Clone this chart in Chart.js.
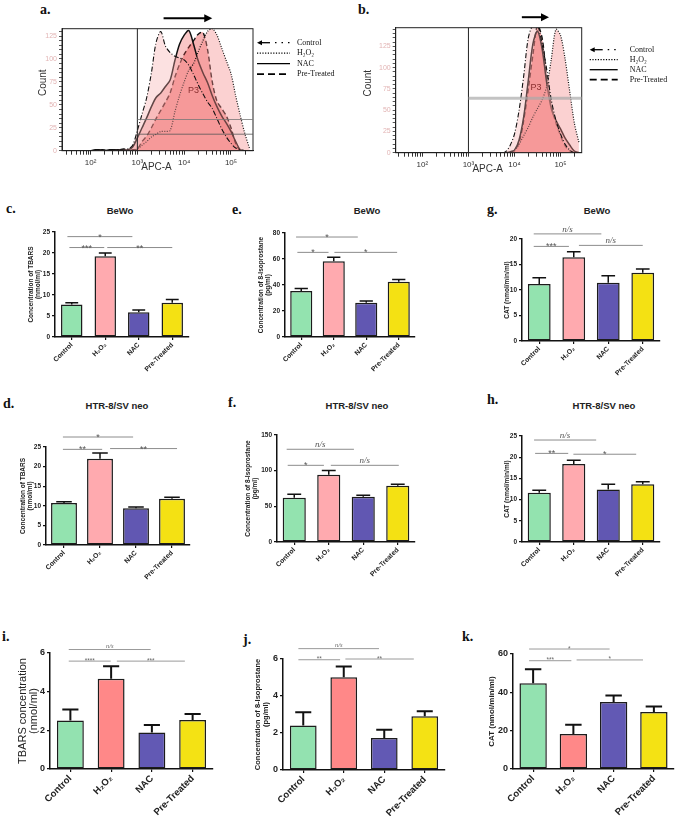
<!DOCTYPE html>
<html><head><meta charset="utf-8">
<script src="https://cdn.jsdelivr.net/npm/chart.js@4.4.0/dist/chart.umd.min.js"></script>
<style>
body{margin:0;background:#fff;width:676px;height:816px;position:relative;overflow:hidden;font-family:"Liberation Sans",Arial,sans-serif}
canvas{position:absolute}
.lbl{position:absolute;font:bold 14px "Liberation Serif",serif;color:#111;line-height:1}
.ttl{position:absolute;font:bold 9.5px "Liberation Sans",Arial,sans-serif;color:#222;transform:translate(-50%,-50%);white-space:nowrap}
</style></head><body>
<div class="lbl" style="left:40px;top:3px">a.</div>
<div class="lbl" style="left:358px;top:3px">b.</div>
<div class="lbl" style="left:6px;top:202px">c.</div>
<div class="lbl" style="left:232px;top:203px">e.</div>
<div class="lbl" style="left:487px;top:203px">g.</div>
<div class="lbl" style="left:3px;top:397px">d.</div>
<div class="lbl" style="left:228px;top:396px">f.</div>
<div class="lbl" style="left:487px;top:393px">h.</div>
<div class="lbl" style="left:2px;top:630px">i.</div>
<div class="lbl" style="left:243px;top:633px">j.</div>
<div class="lbl" style="left:462px;top:630px">k.</div>
<div class="ttl" style="left:120px;top:210px">BeWo</div>
<div class="ttl" style="left:367px;top:210px">BeWo</div>
<div class="ttl" style="left:597px;top:210px">BeWo</div>
<div class="ttl" style="left:117px;top:405px">HTR-8/SV neo</div>
<div class="ttl" style="left:357px;top:405px">HTR-8/SV neo</div>
<div class="ttl" style="left:604px;top:405px">HTR-8/SV neo</div>
<script>
// ---------------- DATA ----------------
const groups = ['Control', 'H₂O₂', 'NAC', 'Pre-Treated'];
const legendNames = ['Control', 'H₂O₂', 'NAC', 'Pre-Treated'];

// flow cytometry histograms: log10(APC-A) bins and counts
const bins = [2.0,2.1,2.2,2.3,2.4,2.5,2.6,2.7,2.8,2.9,3.0,3.1,3.2,3.3,3.4,3.5,3.6,3.7,3.8,3.9,4.0,4.1,4.2,4.3,4.4,4.5,4.6,4.7,4.8,4.9,5.0,5.1,5.2,5.3,5.4];
const aControl = [0,0,1,1,0,1,1,2,2,6, 22,40,58,85,118, 130,114,107,103,101, 99,93,83,72,62, 53,46,35,24,15, 8,3,1,0,0];
const aH2O2    = [0,0,0,0,0,0,0,0,0,0, 2,6,10,15,18, 21,21,22,42,60, 75,88,95,108,120, 130,133,126,112,98, 84,60,38,18,2];
const aNAC     = [0,1,1,0,1,1,1,1,1,4, 14,25,36,48,58, 63,70,77,98,116, 126,131,116,98,85, 74,60,48,38,30, 21,10,1,0,0];
const aPre     = [0,0,0,0,0,0,0,0,0,1, 2,10,16,25,35, 44,53,63,80,94, 105,113,120,127,129, 110,75,54,46,38, 25,8,0,0,0];
const bControl = [0,0,0,0,0,0,0,0,0,0, 0,0,0,0,0,0,0,0,1,8, 22,50,90,135,150, 150,128,98,62,38, 22,10,3,0,0];
const bH2O2    = [0,0,0,0,0,0,0,0,0,0, 0,0,0,0,0,0,0,0,0,0, 3,10,20,30,42, 52,62,78,110,145, 138,110,72,35,12];
const bNAC     = [0,0,0,0,0,0,0,0,0,0, 0,0,0,0,0,0,0,0,0,1, 3,15,42,85,128, 143,122,82,52,38, 28,17,9,2,0];
const bPre     = [0,0,0,0,0,0,0,0,0,0, 0,0,0,0,0,0,0,0,0,0, 2,12,38,75,115, 150,135,90,55,35, 20,8,2,0,0];
const decadeLabels = {2:'10²',3:'10³',4:'10⁴',5:'10⁵'};

// c. BeWo TBARS
const tbarsBeWo = [7.75, 19.2, 5.9, 8.15];
const tbarsBeWoSem = [0.4, 0.8, 0.5, 0.75];
// e. BeWo 8-isoprostane
const isoBeWo = [35.3, 58.3, 26.3, 42.5];
const isoBeWoSem = [2.0, 3.1, 1.3, 1.7];
// g. BeWo CAT
const catBeWo = [11.2, 16.4, 11.4, 13.4];
const catBeWoSem = [1.2, 1.1, 1.4, 0.7];
// d. HTR TBARS
const tbarsHTR = [10.7, 22.0, 9.4, 11.8];
const tbarsHTRSem = [0.35, 1.5, 0.3, 0.4];
// f. HTR 8-isoprostane
const isoHTR = [61.9, 94.2, 63.3, 78.8];
const isoHTRSem = [5.1, 6.1, 2.3, 2.3];
// h. HTR CAT
const catHTR = [11.6, 18.4, 12.4, 13.6];
const catHTRSem = [0.6, 0.9, 1.2, 0.6];
// i. TBARS
const tbarsI = [2.51, 4.67, 1.89, 2.54];
const tbarsISem = [0.57, 0.64, 0.39, 0.31];
// j. 8-isoprostane
const isoJ = [2.41, 5.01, 1.73, 2.9];
const isoJSem = [0.71, 0.59, 0.45, 0.27];
// k. CAT
const catK = [44.7, 18.2, 34.9, 29.7];
const catKSem = [7.3, 4.9, 3.4, 2.9];

// significance brackets: [from category, to category, value level, label]
const sigC = [[-0.13,1.81,23.9,'*'],[-0.07,0.97,21.3,'***'],[1.06,3.0,21.3,'**']];
const sigE = [[-0.16,1.74,76.9,'*'],[-0.12,0.84,65.1,'*'],[1.02,2.95,65.1,'*']];
const sigG = [[-0.16,1.8,21.0,'n/s'],[-0.16,0.86,18.55,'***'],[1.15,3.0,18.75,'n/s']];
const sigD = [[-0.03,1.92,27.55,'*'],[-0.03,1.06,24.4,'**'],[1.28,3.14,24.6,'**']];
const sigF = [[-0.22,1.73,130,'n/s'],[-0.19,0.86,107.5,'*'],[1.06,3.03,107.5,'n/s']];
const sigH = [[-0.15,1.65,24.05,'n/s'],[-0.12,0.84,20.9,'**'],[0.99,2.81,20.7,'*']];
const sigI = [[-0.04,1.97,6.18,'n/s'],[-0.04,0.99,5.58,'****'],[1.14,2.81,5.58,'***']];
const sigJ = [[-0.12,1.87,6.56,'n/s'],[-0.12,0.91,5.96,'**'],[1.04,2.73,6.0,'**']];
const sigK = [[-0.1,1.9,62.6,'*'],[-0.1,0.95,56.5,'***'],[1.08,2.73,56.9,'*']];

const colorsTop = ['#93E3AF', '#FFAAAF', '#6157B2', '#F4E113'];
const colorsBottom = ['#93E2B0', '#FF8888', '#6259B4', '#F4E214'];

// ---------------- BAR CHARTS ----------------
function barDeco(o) {
  return {
    id: 'barDeco',
    afterDatasetsDraw(chart) {
      const ctx = chart.ctx, ca = chart.chartArea, xs = chart.scales.x, ys = chart.scales.y;
      const meta = chart.getDatasetMeta(0);
      ctx.save();
      ctx.strokeStyle = '#111'; ctx.lineWidth = o.ebw; ctx.setLineDash([]);
      meta.data.forEach((el, i) => {
        const top = ys.getPixelForValue(o.values[i] + o.sem[i]);
        const hw = el.width * 0.3;
        ctx.beginPath();
        ctx.moveTo(el.x, el.y); ctx.lineTo(el.x, top);
        ctx.moveTo(el.x - hw, top); ctx.lineTo(el.x + hw, top);
        ctx.stroke();
      });
      o.sig.forEach(s => {
        const x0 = xs.getPixelForValue(s[0]), x1 = xs.getPixelForValue(s[1]), y = ys.getPixelForValue(s[2]);
        ctx.strokeStyle = o.sigColor; ctx.lineWidth = 1;
        ctx.beginPath(); ctx.moveTo(x0, y); ctx.lineTo(x1, y); ctx.stroke();
        ctx.fillStyle = o.sigText; ctx.textAlign = 'center';
        if (s[3] === 'n/s') {
          ctx.font = o.nsFont; ctx.textBaseline = 'alphabetic';
          ctx.fillText('n/s', (x0 + x1) / 2, y - o.nsGap);
        } else {
          ctx.font = o.starFont; ctx.textBaseline = 'bottom';
          ctx.fillText(s[3], (x0 + x1) / 2, y + o.starGap);
        }
      });
      ctx.translate(ca.left - o.yTitleOff, (ca.top + ca.bottom) / 2);
      ctx.rotate(-Math.PI / 2);
      ctx.fillStyle = '#222'; ctx.font = o.yTitleFont;
      ctx.textAlign = 'center'; ctx.textBaseline = 'middle';
      const n = o.yTitle.length;
      o.yTitle.forEach((line, k) => ctx.fillText(line, 0, (k - (n - 1) / 2) * o.yTitleLH));
      ctx.restore();
    }
  };
}

function makeBar(o) {
  const [l, t, r, b] = o.box;
  const padL = Math.min(56, l), padT = 45, padR = 4, padB = 62;
  const W = Math.round(r - l + padL + padR), H = Math.round(b - t + padT + padB);
  const cv = document.createElement('canvas');
  cv.width = W; cv.height = H;
  cv.style.left = (l - padL) + 'px'; cv.style.top = (t - padT) + 'px';
  document.body.appendChild(cv);
  const tickFont = {family: 'Liberation Sans', size: o.tickSize, weight: 'bold'};
  const xFont = {family: 'Liberation Sans', size: o.xSize, weight: 'bold'};
  new Chart(cv, {
    type: 'bar',
    data: {labels: groups, datasets: [{
      data: o.values, backgroundColor: o.colors, borderColor: '#1c1c1c',
      borderWidth: o.bw, borderSkipped: false, barPercentage: o.bp, categoryPercentage: 1
    }]},
    options: {
      responsive: false, animation: false, events: [],
      layout: {padding: {top: padT, right: padR, left: 0, bottom: 0}},
      plugins: {legend: {display: false}, tooltip: {enabled: false}},
      scales: {
        x: {
          offset: true,
          grid: {display: true, offset: false, drawOnChartArea: false, drawTicks: true, tickLength: 3, color: '#111', lineWidth: 1.2},
          border: {display: true, color: '#111', width: 1.5},
          ticks: {autoSkip: false, maxRotation: 45, minRotation: 45, color: '#222', font: xFont, padding: 1},
          afterFit(s) { s.height = padB; }
        },
        y: {
          min: 0, max: o.ymax,
          ticks: {stepSize: o.step, color: '#222', font: tickFont, padding: 2},
          grid: {display: true, drawOnChartArea: false, drawTicks: true, tickLength: 3, color: '#111', lineWidth: 1.2},
          border: {display: true, color: '#111', width: 1.5},
          afterFit(s) { s.width = padL; }
        }
      }
    },
    plugins: [barDeco(o)]
  });
}

const topStyle = {tickSize: 6.5, xSize: 6.8, bw: 1.5, ebw: 1.5, sigColor: '#8c8c8c', sigText: '#555',
  starFont: '9px "Liberation Sans"', starGap: 5, nsFont: 'italic 9px "Liberation Serif"', nsGap: 2,
  yTitleFont: 'bold 6.5px "Liberation Sans"', yTitleLH: 7};
const botStyle = {tickSize: 9, xSize: 9.5, bw: 1.5, ebw: 2, sigColor: '#9a9a9a', sigText: '#666',
  starFont: '6.5px "Liberation Sans"', starGap: 3, nsFont: 'italic 6.5px "Liberation Serif"', nsGap: 2,
  yTitleFont: 'bold 8px "Liberation Sans"', yTitleLH: 8.5};

makeBar(Object.assign({}, topStyle, {box: [55, 232.3, 189, 337.7], values: tbarsBeWo, sem: tbarsBeWoSem, colors: colorsTop,
  ymax: 25, step: 5, bp: 0.64, sig: sigC, yTitle: ['Concentration of TBARS', '(nmol/ml)'], yTitleOff: 20}));
makeBar(Object.assign({}, topStyle, {box: [285, 233.3, 414.6, 337.7], values: isoBeWo, sem: isoBeWoSem, colors: colorsTop,
  ymax: 80, step: 20, bp: 0.68, sig: sigE, yTitle: ['Concentration of 8-Isoprostane', '(pg/ml)'], yTitleOff: 20}));
makeBar(Object.assign({}, topStyle, {box: [521.7, 239.3, 660, 341.7], values: catBeWo, sem: catBeWoSem, colors: colorsTop,
  ymax: 20, step: 5, bp: 0.66, sig: sigG, yTitle: ['CAT (nmol/min/ml)'], yTitleOff: 15}));
makeBar(Object.assign({}, topStyle, {box: [46, 446.7, 190, 544.7], values: tbarsHTR, sem: tbarsHTRSem, colors: colorsTop,
  ymax: 25, step: 5, bp: 0.72, sig: sigD, yTitle: ['Concentration of TBARS', '(nmol/ml)'], yTitleOff: 19.5}));
makeBar(Object.assign({}, topStyle, {box: [276.7, 435, 414.5, 541.7], values: isoHTR, sem: isoHTRSem, colors: colorsTop,
  ymax: 150, step: 50, bp: 0.67, sig: sigF, yTitle: ['Concentration of 8-Isoprostane', '(pg/ml)'], yTitleOff: 25}));
makeBar(Object.assign({}, topStyle, {box: [521.7, 436, 660, 541.7], values: catHTR, sem: catHTRSem, colors: colorsTop,
  ymax: 25, step: 5, bp: 0.67, sig: sigH, yTitle: ['CAT (nmol/min/ml)'], yTitleOff: 15}));
makeBar(Object.assign({}, botStyle, {box: [50, 652.7, 212.8, 768.3], values: tbarsI, sem: tbarsISem, colors: colorsBottom,
  ymax: 6, step: 2, bp: 0.66, sig: sigI, yTitle: ['TBARS concentration', '(nmol/ml)'], yTitleOff: 22,
  yTitleFont: '11px "Liberation Sans"', yTitleLH: 11}));
makeBar(Object.assign({}, botStyle, {box: [282.7, 659.3, 445, 770.3], values: isoJ, sem: isoJSem, colors: colorsBottom,
  ymax: 6, step: 2, bp: 0.66, sig: sigJ, yTitle: ['Concentration of 8-Isoprostane', '(pg/ml)'], yTitleOff: 21,
  yTitleFont: 'bold 7.5px "Liberation Sans"', yTitleLH: 8}));
makeBar(Object.assign({}, botStyle, {box: [512.7, 654, 674, 769.3], values: catK, sem: catKSem, colors: colorsBottom,
  ymax: 60, step: 20, bp: 0.68, sig: sigK, yTitle: ['CAT (nmol/min/ml)'], yTitleOff: 21}));

// ---------------- HISTOGRAMS ----------------
function logTicks(min, max) {
  const v = [];
  for (let d = 1; d <= 5; d++) for (let k = 1; k <= 9; k++) {
    const x = Math.log10(k * Math.pow(10, d));
    if (x >= min && x <= max) v.push(x);
  }
  return v;
}

function histDeco(o) {
  return {
    id: 'histDeco',
    afterDraw(chart) {
      const ctx = chart.ctx, ca = chart.chartArea, xs = chart.scales.x, ys = chart.scales.y;
      ctx.save();
      ctx.setLineDash([]);
      ctx.strokeStyle = '#222'; ctx.lineWidth = 1;
      ctx.strokeRect(ca.left, ca.top, ca.right - ca.left, ca.bottom - ca.top);
      const xv = xs.getPixelForValue(3);
      ctx.beginPath(); ctx.moveTo(xv, ca.top); ctx.lineTo(xv, ca.bottom); ctx.stroke();
      o.gates.forEach(g => {
        const y = ys.getPixelForValue(g[0]);
        ctx.strokeStyle = g[1]; ctx.lineWidth = g[2];
        ctx.beginPath(); ctx.moveTo(xv, y); ctx.lineTo(ca.right, y); ctx.stroke();
      });
      ctx.fillStyle = '#8a3030'; ctx.font = '9px "Liberation Sans"'; ctx.textAlign = 'center'; ctx.textBaseline = 'middle';
      ctx.fillText('P3', xs.getPixelForValue(o.p3[0]), ys.getPixelForValue(o.p3[1]));
      // arrow
      const ax0 = xs.getPixelForValue(o.arrow[0]), ax1 = xs.getPixelForValue(o.arrow[1]), ay = ca.top - 10.5;
      ctx.strokeStyle = '#000'; ctx.fillStyle = '#000'; ctx.lineWidth = 2;
      ctx.beginPath(); ctx.moveTo(ax0, ay); ctx.lineTo(ax1 - 6, ay); ctx.stroke();
      ctx.beginPath(); ctx.moveTo(ax1, ay); ctx.lineTo(ax1 - 8, ay - 4); ctx.lineTo(ax1 - 8, ay + 4); ctx.closePath(); ctx.fill();
      // legend
      ctx.lineWidth = 1.3;
      o.series.forEach((s, k) => {
        const y = ca.top + o.legTop + k * o.legStep;
        const lx0 = ca.right + o.legX0, lx1 = ca.right + o.legX1;
        ctx.strokeStyle = '#000';
        if (k === 0) {
          ctx.setLineDash([]);
          ctx.beginPath(); ctx.moveTo(lx0 + 2, y); ctx.lineTo(lx0 + 13, y); ctx.stroke();
          ctx.beginPath(); ctx.moveTo(lx0, y); ctx.lineTo(lx0 + 5, y - 2.5); ctx.lineTo(lx0 + 5, y + 2.5); ctx.closePath(); ctx.fill();
          ctx.setLineDash([1.5, 5]);
          ctx.beginPath(); ctx.moveTo(lx0 + 18, y); ctx.lineTo(lx1, y); ctx.stroke();
        } else {
          ctx.setLineDash(s.legDash);
          ctx.lineWidth = k === 3 ? 1.8 : 1.3;
          ctx.beginPath(); ctx.moveTo(lx0, y); ctx.lineTo(lx1, y); ctx.stroke();
          ctx.lineWidth = 1.3;
        }
        ctx.setLineDash([]);
        ctx.fillStyle = '#111'; ctx.font = '8px "Liberation Serif"'; ctx.textAlign = 'left'; ctx.textBaseline = 'middle';
        ctx.fillText(legendNames[k], ca.right + o.legTX, y);
      });
      // axis titles
      ctx.fillStyle = '#333'; ctx.font = '10px "Liberation Sans"'; ctx.textAlign = 'center'; ctx.textBaseline = 'middle';
      ctx.fillText('APC-A', (ca.left + ca.right) / 2 - 1, ca.bottom + 17);
      ctx.translate(ca.left - o.yTitleOff, (ca.top + ca.bottom) / 2 - 7);
      ctx.rotate(-Math.PI / 2);
      ctx.fillText('Count', 0, 0);
      ctx.restore();
    }
  };
}

function makeHist(o) {
  const [l, t, r, b] = o.box;
  const cv = document.createElement('canvas');
  cv.width = o.cw; cv.height = o.ch;
  cv.style.left = o.cl + 'px'; cv.style.top = '0px';
  document.body.appendChild(cv);
  const padL = l - o.cl, padT = t, padR = o.cl + o.cw - r, padB = o.ch - b;
  const xt = logTicks(o.xmin, o.xmax);
  const yt = [];
  for (let v = 0; v <= o.ymax; v += 5) yt.push(v);
  new Chart(cv, {
    type: 'line',
    data: {datasets: o.series.map(s => ({
      data: bins.map((x, i) => ({x: x, y: s.counts[i]})),
      borderColor: '#111', borderWidth: s.lw, borderDash: s.dash, fill: 'origin', backgroundColor: s.fill,
      pointRadius: 0, tension: 0.3
    }))},
    options: {
      responsive: false, animation: false, events: [],
      layout: {padding: {top: padT, right: padR, left: 0, bottom: 0}},
      plugins: {legend: {display: false}, tooltip: {enabled: false}},
      scales: {
        x: {
          type: 'linear', min: o.xmin, max: o.xmax,
          afterBuildTicks(s) { s.ticks = xt.map(v => ({value: v})); },
          ticks: {autoSkip: false, maxRotation: 0, color: '#333', font: {family: 'Liberation Sans', size: 8}, padding: 3,
            callback(v) { const rv = Math.round(v); return Math.abs(v - rv) < 1e-6 ? decadeLabels[rv] : ''; }},
          grid: {display: true, drawOnChartArea: false, drawTicks: true, tickLength: 4, color: '#333'},
          border: {display: true, color: '#222'},
          afterFit(s) { s.height = padB; }
        },
        y: {
          min: 0, max: o.ymax,
          afterBuildTicks(s) { s.ticks = yt.map(v => ({value: v})); },
          ticks: {autoSkip: false, color: '#e2b4b4', font: {family: 'Liberation Sans', size: 7}, padding: 2,
            callback(v) { return v % 25 === 0 ? String(v) : ''; }},
          grid: {display: true, drawOnChartArea: false, drawTicks: true, tickLength: 3, color: '#555'},
          border: {display: true, color: '#222'},
          afterFit(s) { s.width = padL; }
        }
      }
    },
    plugins: [histDeco(o)]
  });
}

const histSeries = (c, h, n, p) => [
  {counts: c, dash: [5, 2, 1, 2], legDash: [5, 2, 1, 2], lw: 1.1, fill: 'rgba(246,170,170,0.35)'},
  {counts: h, dash: [1, 1.5], legDash: [1.2, 1.5], lw: 1.2, fill: 'rgba(244,140,140,0.40)'},
  {counts: n, dash: [], legDash: [], lw: 1.5, fill: 'rgba(236,80,80,0.32)'},
  {counts: p, dash: [5, 3], legDash: [7, 4], lw: 1.4, fill: 'rgba(236,70,70,0.42)'}
];

makeHist({cl: 0, cw: 338, ch: 185, box: [62, 28.7, 253, 150.7], xmin: 1.39, xmax: 5.47, ymax: 133,
  series: histSeries(aControl, aH2O2, aNAC, aPre),
  gates: [[34, '#777', 0.8], [18, '#555', 0.8]], p3: [4.2, 66], arrow: [3.56, 4.6],
  legTop: 14, legStep: 10.5, legX0: 4, legX1: 37, legTX: 44, yTitleOff: 19});
makeHist({cl: 338, cw: 338, ch: 185, box: [395.7, 27.7, 581.7, 152.7], xmin: 1.42, xmax: 5.46, ymax: 147,
  series: histSeries(bControl, bH2O2, bNAC, bPre),
  gates: [[64, 'rgba(170,170,170,0.7)', 3]], p3: [4.47, 77], arrow: [4.16, 4.75],
  legTop: 22, legStep: 10, legX0: 8, legX1: 36, legTX: 48, yTitleOff: 27.7});
</script>
</body></html>
